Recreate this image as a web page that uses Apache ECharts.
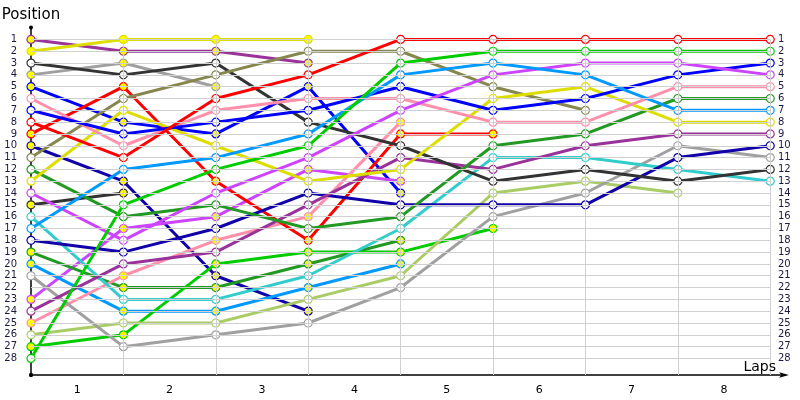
<!DOCTYPE html>
<html>
<head>
<meta charset="utf-8">
<script src="https://cdn.jsdelivr.net/npm/echarts@6/dist/echarts.min.js"></script>
<style>html,body{margin:0;padding:0;background:#fff}#chart{width:800px;height:400px}</style>
</head>
<body>
<div id="chart"></div>
<script>
// Laps 0 (grid) .. 8
const laps = [0, 1, 2, 3, 4, 5, 6, 7, 8];
const lapLabels = ['1', '2', '3', '4', '5', '6', '7', '8'];
const positions = Array.from({length: 28}, (_, i) => i + 1);

// Positions per driver, index = lap (ends when the driver retires)
const purpleA   = [1, 2, 2, 3];
const yellowA   = [2, 1, 1, 1];
const darkGrayB = [3, 4, 3, 8, 10, 13, 12, 13, 12];
const grayA     = [4, 3, 5];
const blueA     = [5, 8, 9, 5, 14];
const pinkB     = [6, 10, 7, 6, 6, 8, 8, 5, 5];
const blueB     = [7, 9, 8, 7, 5, 7, 6, 4, 3];
const redB      = [8, 11, 6, 4, 1, 1, 1, 1, 1];
const redA      = [9, 5, 13, 18, 9, 9];
const navyA     = [10, 13, 21, 24];
const oliveB    = [11, 6, 4, 2, 2, 5, 7];
const dkGreenB  = [12, 16, 15, 17, 16, 10, 9, 6, 6];
const yellowB   = [13, 7, 10, 13, 12, 6, 5, 8, 8];
const violetB   = [14, 18, 14, 11, 7, 4, 3, 3, 4];
const darkGrayA = [15, 14];
const tealB     = [16, 23, 23, 21, 17, 11, 11, 12, 13];
const ltBlueB   = [17, 12, 11, 9, 4, 3, 4, 7, 7];
const navyB     = [18, 19, 17, 14, 15, 15, 15, 11, 10];
const dkGreenA  = [19, 22, 22, 20, 18];
const ltBlueA   = [20, 24, 24, 22, 20];
const grayB     = [21, 27, 26, 25, 22, 16, 14, 10, 11];
const violetA   = [23, 17, 16, 12, 13];
const purpleB   = [24, 20, 19, 15, 11, 12, 10, 9, 9];
const pinkA     = [25, 21, 18, 16, 8];
const ltOliveB  = [26, 25, 25, 23, 21, 14, 13, 14];
const ltGreenA  = [27, 26, 20, 19, 19, 17];
const ltGreenB  = [28, 15, 12, 10, 3, 2, 2, 2, 2];

const C = {
  purple: '#993399', yellow: '#dddd00', darkGray: '#333333', gray: '#a0a0a0',
  blue: '#0000ff', pink: '#ff8faa', red: '#ff0000', navy: '#1100aa',
  olive: '#86864f', dkGreen: '#229922', ltGreen: '#00cc00', violet: '#cc44ff',
  ltBlue: '#0099ff', teal: '#33cccc', ltOlive: '#aacc66'
};
const FILL_A = '#ffff00', FILL_B = '#ffffff';

const drivers = [
  [darkGrayA, C.darkGray, FILL_A], [grayA, C.gray, FILL_A], [navyA, C.navy, FILL_A],
  [purpleA, C.purple, FILL_A], [yellowA, C.yellow, FILL_A],
  [blueA, C.blue, FILL_A], [violetA, C.violet, FILL_A], [dkGreenA, C.dkGreen, FILL_A],
  [ltBlueA, C.ltBlue, FILL_A], [pinkA, C.pink, FILL_A], [redA, C.red, FILL_A],
  [ltGreenA, C.ltGreen, FILL_A],
  [ltOliveB, C.ltOlive, FILL_B], [grayB, C.gray, FILL_B], [tealB, C.teal, FILL_B],
  [navyB, C.navy, FILL_B], [purpleB, C.purple, FILL_B], [darkGrayB, C.darkGray, FILL_B],
  [dkGreenB, C.dkGreen, FILL_B], [oliveB, C.olive, FILL_B], [yellowB, C.yellow, FILL_B],
  [pinkB, C.pink, FILL_B], [blueB, C.blue, FILL_B], [violetB, C.violet, FILL_B],
  [ltBlueB, C.ltBlue, FILL_B], [ltGreenB, C.ltGreen, FILL_B], [redB, C.red, FILL_B]
];

const lineSeries = drivers.map(([arr, col]) => ({
  type: 'line',
  data: arr.map((p, i) => [laps[i], p]),
  showSymbol: false,
  symbol: 'none',
  lineStyle: {color: col, width: 3},
  emphasis: {disabled: true},
  silent: true,
  z: 3
}));
const markerSeries = drivers.map(([arr, col, fill]) => ({
  type: 'scatter',
  data: arr.map((p, i) => [laps[i], p]),
  symbol: 'circle',
  symbolSize: 8,
  itemStyle: {color: fill, borderColor: col, borderWidth: 1.2, opacity: 1},
  emphasis: {disabled: true},
  silent: true,
  z: 4
}));

// grid lines
const gridSeries = {
  type: 'line', data: [], silent: true, z: 1,
  markLine: {
    silent: true, symbol: 'none', label: {show: false},
    lineStyle: {color: '#d0d0d0', width: 1, type: 'solid'},
    data: positions.map(p => [{coord: [0, p]}, {coord: [8, p]}])
      .concat(laps.slice(1).map(l => [{coord: [l, 1]}, {coord: [l, 29.4]}]))
  }
};

const labelFont = {fontFamily: 'DejaVu Sans', fontSize: 10, color: '#1a1a40'};

const option = {
  animation: false,
  backgroundColor: '#fff',
  title: {
    text: 'Laps', right: 24, bottom: 26, padding: 0,
    textStyle: {fontFamily: 'DejaVu Sans', fontSize: 14, fontWeight: 'normal', color: '#000'}
  },
  grid: {left: 31, right: 15, top: 27.6, bottom: 25, containLabel: false, outerBoundsMode: 'none'},
  xAxis: {
    type: 'value', min: 0, max: 8.16, interval: 0.5, position: 'bottom',
    axisLine: {show: true, onZero: false, lineStyle: {color: '#000', width: 1.5}, symbol: ['circle', 'arrow'], symbolSize: [4, 10], symbolOffset: [0, 4]},
    axisTick: {show: false},
    splitLine: {show: false},
    axisLabel: {
      margin: 10,
      fontFamily: 'DejaVu Sans', fontSize: 11, color: '#000',
      formatter: v => (Math.abs(v - Math.floor(v) - 0.5) < 1e-6 && v < 8) ? lapLabels[Math.floor(v)] : ''
    }
  },
  yAxis: [{
    type: 'value', min: 0, max: 29.4, interval: 1, inverse: true,
    name: 'Position', nameLocation: 'start', nameGap: 5,
    nameTextStyle: {fontFamily: 'DejaVu Sans', fontSize: 15, color: '#000', align: 'center', verticalAlign: 'bottom'},
    axisLine: {show: true, onZero: false, lineStyle: {color: '#000', width: 1.5}, symbol: ['circle', 'circle'], symbolSize: [4, 4]},
    axisTick: {show: false},
    splitLine: {show: false},
    axisLabel: Object.assign({margin: 14, formatter: v => (v >= 1 && v <= 28) ? String(v) : ''}, labelFont)
  }, {
    type: 'value', min: 0, max: 29.4, interval: 1, inverse: true, position: 'right', offset: -8,
    axisLine: {show: false}, axisTick: {show: false}, splitLine: {show: false},
    axisLabel: Object.assign({margin: 1, align: 'left', formatter: v => (v >= 1 && v <= 28) ? String(v) : ''}, labelFont)
  }],
  series: [gridSeries].concat(lineSeries, markerSeries)
};

const chart = echarts.init(document.getElementById('chart'), null, {renderer: 'canvas'});
chart.setOption(option);
</script>
</body>
</html>
